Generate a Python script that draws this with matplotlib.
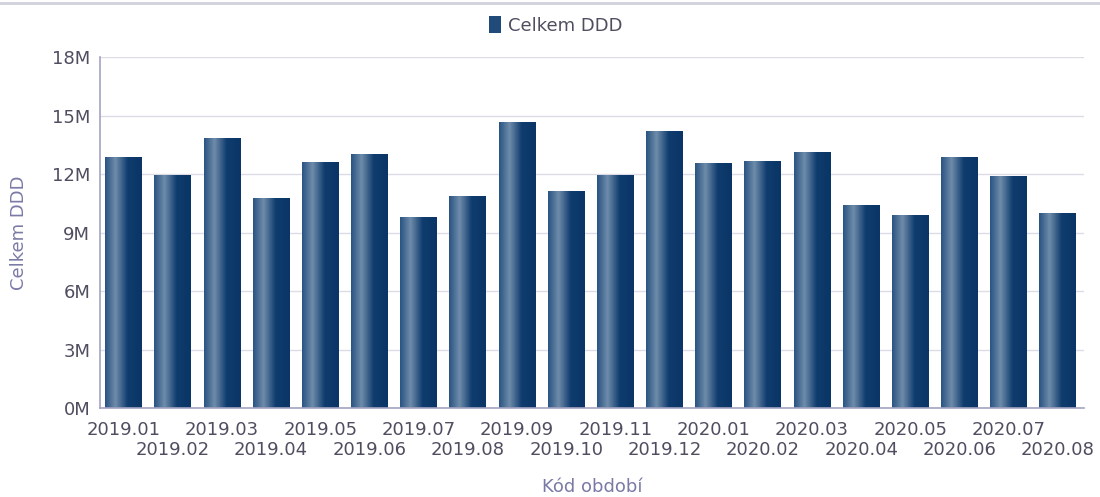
import numpy as np
import matplotlib.pyplot as plt
from matplotlib.colors import LinearSegmentedColormap
from matplotlib.patches import Rectangle
from matplotlib.lines import Line2D

plt.rcParams['font.family'] = ['DejaVu Sans']

periods = ["2019.01", "2019.02", "2019.03", "2019.04", "2019.05", "2019.06", "2019.07",
           "2019.08", "2019.09", "2019.10", "2019.11", "2019.12", "2020.01", "2020.02",
           "2020.03", "2020.04", "2020.05", "2020.06", "2020.07", "2020.08"]
celkem_ddd = [12.87, 11.95, 13.85, 10.77, 12.62, 13.03, 9.79, 10.87, 14.67, 11.13,
              11.95, 14.20, 12.56, 12.67, 13.13, 10.41, 9.90, 12.87, 11.90, 10.00]
celkem_ddd = np.array(celkem_ddd) * 1e6

label_col = "#4e4e60"
axis_col = "#7a7aa6"

fig = plt.figure(figsize=(11, 4.97), dpi=100)
ax = fig.add_axes([0.0909, 0.179, 0.895, 0.706])

# horizontal gradient used for the bars
cmap = LinearSegmentedColormap.from_list("bar", [(0.0, "#2a5482"), (0.28, "#6f8caa"),
                                                  (0.62, "#0f3c6e"), (1.0, "#0a3566")])
grad = np.linspace(0, 1, 64).reshape(1, -1)

width = 0.75
x = np.arange(len(periods))
bars = ax.bar(x, celkem_ddd, width=width, color="none", edgecolor="none", zorder=2)
for b in bars:
    x0 = b.get_x()
    h = b.get_height()
    im = ax.imshow(grad, cmap=cmap, aspect="auto", extent=(x0, x0 + width, 0, h),
                   zorder=2, interpolation="bilinear")
    im.set_clip_path(b)

ax.set_xlim(-0.48, len(periods) - 0.46)
ax.set_ylim(0, 18e6)
yt = np.arange(0, 18.1e6, 3e6)
ax.set_yticks(yt)
ax.set_yticklabels([f"{int(v / 1e6)}M" for v in yt])
ax.grid(axis="y", color="#dcdce6", linewidth=1, zorder=0)
ax.set_axisbelow(True)

# staggered period labels: even on the first row, odd on the second
ax.set_xticks(x[::2])
ax.set_xticklabels(periods[::2])
ax.set_xticks(x[1::2], minor=True)
ax.set_xticklabels(periods[1::2], minor=True)
ax.tick_params(axis="x", which="major", length=0, pad=9, labelsize=13, labelcolor=label_col)
ax.tick_params(axis="x", which="minor", length=0, pad=23.5, labelsize=13, labelcolor=label_col)
ax.tick_params(axis="y", length=0, pad=7, labelsize=13, labelcolor=label_col)

for s in ["top", "right"]:
    ax.spines[s].set_visible(False)
for s in ["left", "bottom"]:
    ax.spines[s].set_color("#a3a3c2")
    ax.spines[s].set_linewidth(1.2)

ax.set_ylabel("Celkem DDD", color=axis_col, fontsize=13)
ax.yaxis.set_label_coords(-0.073, 0.5)
ax.set_xlabel("Kód období", color=axis_col, fontsize=13)
ax.xaxis.set_label_coords(0.5, -0.198)

legend_patch = Rectangle((0, 0), 1, 1, facecolor="#1f4a7a", edgecolor="none")
ax.legend([legend_patch], ["Celkem DDD"], loc="center", bbox_to_anchor=(0.463, 1.09),
          frameon=False, fontsize=13, labelcolor=label_col, handlelength=0.7,
          handleheight=1.0, handletextpad=0.4)

fig.add_artist(Line2D([0, 1], [0.994, 0.994], color="#d0d0dc", linewidth=2,
                      transform=fig.transFigure))

fig.savefig("out.png", dpi=100)
